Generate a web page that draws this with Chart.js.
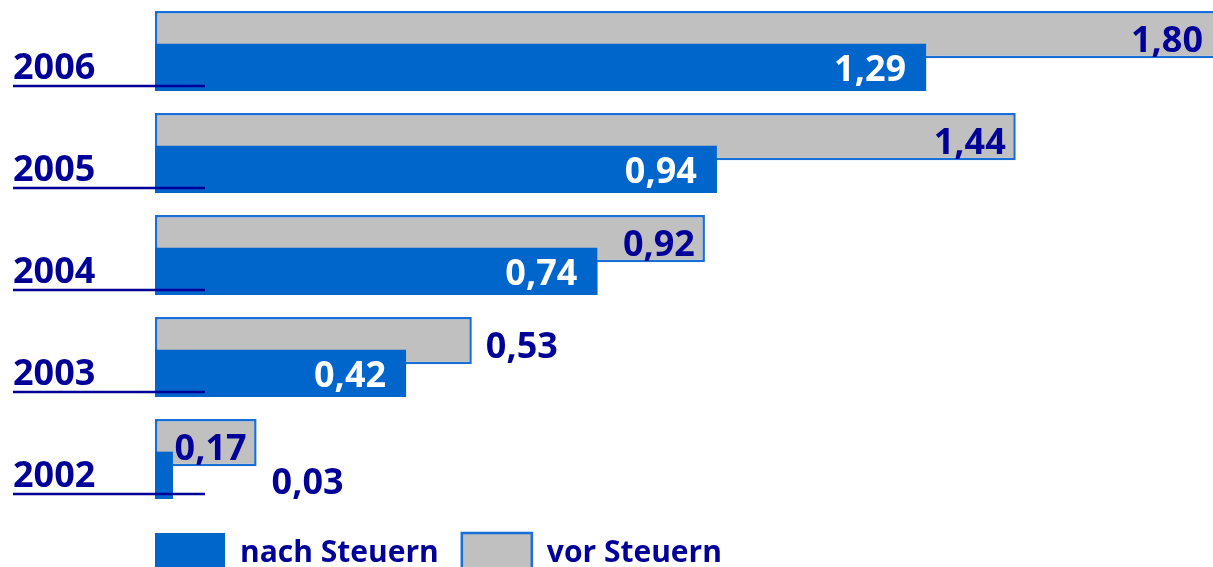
<!DOCTYPE html>
<html lang="de">
<head>
<meta charset="utf-8">
<title>Ergebnis je Aktie</title>
<script src="https://cdn.jsdelivr.net/npm/chart.js@4.4.1/dist/chart.umd.min.js"></script>
<style>
  html, body { margin: 0; padding: 0; background: #fff; overflow: hidden; }
  #wrap { width: 1213px; height: 583px; }
</style>
</head>
<body>
<div id="wrap"><canvas id="chart" width="1213" height="583"></canvas></div>
<script>
const years = ['2006', '2005', '2004', '2003', '2002'];
const vorSteuern = [1.80, 1.44, 0.92, 0.53, 0.17];
const nachSteuern = [1.29, 0.94, 0.74, 0.42, 0.03];
const seriesNames = ['vor Steuern', 'nach Steuern'];

const NAVY = '#000099';
const BLUE = '#0066cc';
const GREY = '#c0c0c0';
const FONT = '"Open Sans", "DejaVu Sans", sans-serif';

const fmt = v => v.toFixed(2).replace('.', ',');

// blue bars on top again, the lines under the years and the numbers
const valueLabels = {
    id: 'valueLabels',
    afterLayout(chart) {
        // legend starts where the bars start
        chart.legend.left = chart.chartArea.left - chart.options.plugins.legend.labels.padding;
    },
    afterDatasetsDraw(chart) {
        const ctx = chart.ctx;
        const area = chart.chartArea;
        const yScale = chart.scales.y;
        const grey = chart.getDatasetMeta(0);
        const blue = chart.getDatasetMeta(1);
        blue.controller.draw();

        ctx.save();
        ctx.strokeStyle = NAVY;
        ctx.lineWidth = 2.5;
        years.forEach((y, i) => {
            const py = yScale.getPixelForTick(i) + 35;
            ctx.beginPath();
            ctx.moveTo(yScale.left, py);
            ctx.lineTo(area.left + 50, py);
            ctx.stroke();
        });

        ctx.font = 'bold 36px ' + FONT;
        ctx.textBaseline = 'alphabetic';
        const lift = 13; // half the digit height
        years.forEach((y, i) => {
            const g = grey.data[i], b = blue.data[i];
            const gEnd = Math.min(g.x, area.right);
            const bEnd = Math.min(b.x, area.right);

            let txt = fmt(vorSteuern[i]);
            let w = ctx.measureText(txt).width;
            ctx.fillStyle = NAVY;
            if (gEnd - bEnd >= w + 4) {
                ctx.textAlign = 'right';
                ctx.fillText(txt, gEnd - 10, g.y + 4 + lift);
            } else {
                ctx.textAlign = 'left';
                ctx.fillText(txt, gEnd + 14, g.y + 4 + lift);
            }

            txt = fmt(nachSteuern[i]);
            w = ctx.measureText(txt).width;
            if (bEnd - area.left > w + 40) {
                ctx.fillStyle = '#fff';
                ctx.textAlign = 'right';
                ctx.fillText(txt, bEnd - 20, b.y + 1 + lift);
            } else {
                ctx.fillStyle = NAVY;
                ctx.textAlign = 'left';
                ctx.fillText(txt, Math.max(gEnd, bEnd) + 15, b.y + 6 + lift);
            }
        });
        ctx.restore();
    }
};

new Chart(document.getElementById('chart'), {
    type: 'bar',
    data: {
        labels: years,
        datasets: [{
            label: seriesNames[0],
            data: vorSteuern,
            backgroundColor: GREY,
            borderColor: '#1a6fd6',
            borderWidth: 2.5,
            borderSkipped: false,
            categoryPercentage: 0.64,
            barPercentage: 1.45
        }, {
            label: seriesNames[1],
            data: nachSteuern,
            backgroundColor: BLUE,
            borderWidth: 0,
            categoryPercentage: 0.64,
            barPercentage: 1.45
        }]
    },
    options: {
        indexAxis: 'y',
        responsive: false,
        animation: false,
        events: [],
        layout: { padding: { left: 13, right: 0, top: 0, bottom: 0 } },
        scales: {
            x: { display: false, min: 0, max: 1.77 },
            y: {
                grid: { display: false },
                border: { display: false },
                ticks: {
                    crossAlign: 'far',
                    labelOffset: 18,
                    padding: 0,
                    color: NAVY,
                    font: { family: FONT, size: 36, weight: 'bold' }
                },
                afterFit(scale) {
                    scale.width = 142;
                    scale.paddingTop = 0;
                    scale.paddingBottom = 0;
                }
            }
        },
        plugins: {
            tooltip: { enabled: false },
            legend: {
                position: 'bottom',
                align: 'start',
                reverse: true,
                labels: {
                    boxWidth: 70,
                    boxHeight: 40,
                    padding: 23,
                    color: NAVY,
                    font: { family: FONT, size: 30, weight: 'bold' }
                }
            }
        }
    },
    plugins: [valueLabels]
});
</script>
</body>
</html>
